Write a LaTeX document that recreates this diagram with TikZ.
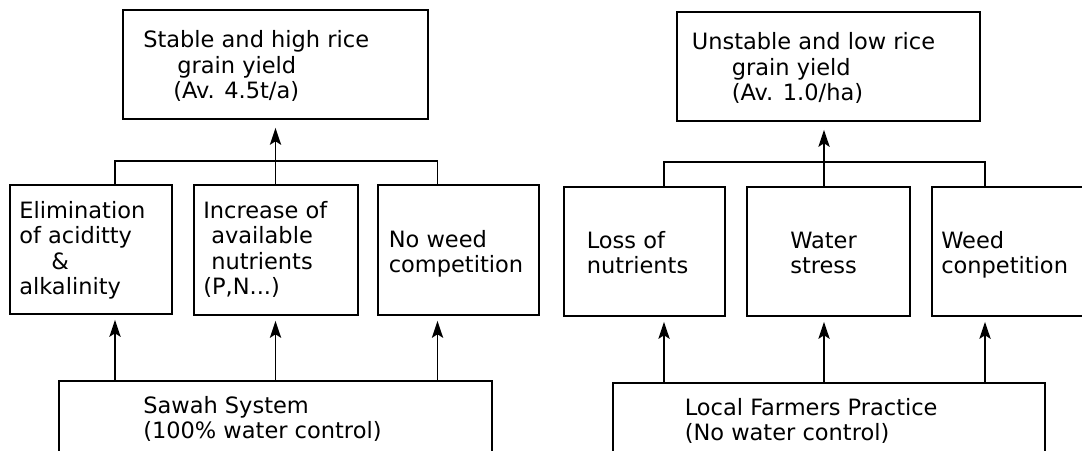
\documentclass[tikz,border=0pt]{standalone}
\usepackage{fontspec}
\setmainfont{DejaVu Sans}
\usetikzlibrary{arrows.meta,positioning}

\newcommand{\pxu}{0.025cm}

\tikzset{
  box/.style 2 args={draw,line width=1.3pt,inner sep=0pt,minimum width=#1*\pxu,minimum height=#2*\pxu},
  txt/.style={anchor=base west,align=left,inner sep=0pt,font=\fontsize{16pt}{0.625cm}\selectfont},
  conn/.style={line width=1.3pt},
  arr/.style={line width=1.3pt,-{Stealth[length=12pt,width=8pt,inset=2.5pt]}}
}

\begin{document}
\begin{tikzpicture}[x=\pxu,y=-\pxu]
    \useasboundingbox (0,0) rectangle (1082,450);
    \clip (0,0) rectangle (1082,450);

    \node[box={305}{109}] (res1) at (275.5,64.5) {};
    \node[box={303}{109}] (res2) at (828.5,66.5) {};

    % label (anchored at the last line)
    \node[txt] (reslabel1) at (143,98) {Stable and high rice\\\hspace*{0.85cm}grain yield\\\hspace*{0.75cm}(Av. 4.5t/a)};
    \node[txt] (reslabel2) at (691.5,100) {Unstable and low rice\\\hspace*{1cm}grain yield\\\hspace*{1cm}(Av. 1.0/ha)};

    \node[box={162}{129}] (eff11) at (91,249.5) {};
    \node[box={164}{130}] (eff12) at (276,250) {};
    \node[box={161}{130}] (eff13) at (458.5,250) {};
    \node[box={161}{129}] (eff21) at (644.5,251.5) {};
    \node[box={163}{129}] (eff22) at (828.5,251.5) {};
    \node[box={162}{129}] (eff23) at (1013,251.5) {};

    % label
    \node[txt] (efflabel11) at (19,294) {Elimination\\of aciditty\\\hspace*{0.8cm}\&\\alkalinity};
    \node[txt] (efflabel12) at (203,294) {Increase of\\\hspace*{0.2cm}available\\\hspace*{0.2cm}nutrients\\(P,N...)};
    \node[txt] (efflabel13) at (388.5,272) {No weed\\competition};
    \node[txt] (efflabel21) at (586.5,273) {Loss of\\nutrients};
    \node[txt] (efflabel22) at (790,273) {Water\\stress};
    \node[txt] (efflabel23) at (941,273) {Weed\\conpetition};

    \node[box={433}{130}] (cause1) at (275.5,446) {};
    \node[box={432}{130}] (cause2) at (829,448) {};

    % label
    \node[txt] (causelabel1) at (143,438) {Sawah System\\(100\% water control)};
    \node[txt] (causelabel2) at (684.5,440) {Local Farmers Practice\\(No water control)};

    \coordinate (col11) at (115,0);
    \coordinate (col12) at (275.5,0);
    \coordinate (col13) at (437.5,0);
    \coordinate (col21) at (664,0);
    \coordinate (col22) at (824,0);
    \coordinate (col23) at (985,0);
    \coordinate (brk1) at (275.5,161);
    \coordinate (brk2) at (824,162);

    \draw[conn] (eff11.north -| col11) |- (brk1) -| (eff13.north -| col13);
    \draw[conn] (eff21.north -| col21) |- (brk2) -| (eff23.north -| col23);
    \draw[arr,shorten >=0.2cm] (eff12.north -| col12) -- (res1.south -| col12);
    \draw[arr,shorten >=0.2cm] (eff22.north -| col22) -- (res2.south -| col22);

    \foreach \c/\e in {col11/eff11,col12/eff12,col13/eff13}
    \draw[arr,shorten >=0.125cm] (cause1.north -| \c) -- (\e.south -| \c);
    \foreach \c/\e in {col21/eff21,col22/eff22,col23/eff23}
    \draw[arr,shorten >=0.125cm] (cause2.north -| \c) -- (\e.south -| \c);
\end{tikzpicture}
\end{document}
